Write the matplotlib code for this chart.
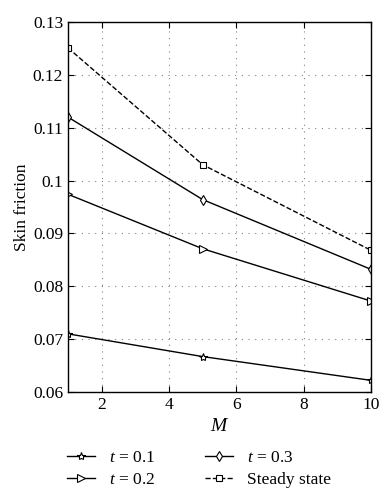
import matplotlib.pyplot as plt

M = [1, 5, 10]
t01 = [0.0710, 0.0667, 0.0622]
t02 = [0.0974, 0.0871, 0.0772]
t03 = [0.1120, 0.0964, 0.0832]
steady = [0.1251, 0.1030, 0.0868]

plt.rcParams['font.family'] = ['Liberation Serif', 'DejaVu Serif']
plt.rcParams['mathtext.fontset'] = 'custom'
plt.rcParams['mathtext.it'] = 'Liberation Serif:italic'
plt.rcParams['mathtext.rm'] = 'Liberation Serif'

fig = plt.figure(figsize=(3.91, 5.0), dpi=100)
ax = fig.add_axes([0.174, 0.216, 0.775, 0.740])

ax.plot(M, t01, 'k-', marker='*', ms=6, mfc='white', mew=0.8, lw=1, label='$t$ = 0.1')
ax.plot(M, t02, 'k-', marker='>', ms=5.5, mfc='white', mew=0.8, lw=1, label='$t$ = 0.2')
ax.plot(M, t03, 'k-', marker='d', ms=5, mfc='white', mew=0.8, lw=1, label='$t$ = 0.3')
ax.plot(M, steady, 'k--', marker='s', ms=4.5, mfc='white', mew=0.8, lw=1, label='Steady state')

ax.set_xlim(1, 10)
ax.set_ylim(0.06, 0.13)
ax.set_xticks([2, 4, 6, 8, 10])
ax.set_yticks([0.06, 0.07, 0.08, 0.09, 0.1, 0.11, 0.12, 0.13])
ax.set_yticklabels(['0.06', '0.07', '0.08', '0.09', '0.1', '0.11', '0.12', '0.13'])
ax.grid(True, linestyle=(0, (1, 5)), color='gray', lw=0.8)
ax.tick_params(direction='in', top=True, right=True, labelsize=12.5, length=4)
for s in ax.spines.values():
    s.set_linewidth(1)

ax.set_xlabel('$M$', fontsize=14)
ax.set_ylabel('Skin friction', fontsize=12.5, labelpad=2)

ax.legend(loc='upper left', bbox_to_anchor=(-0.055, -0.115), ncol=2, frameon=False,
          fontsize=12.5, handlelength=1.6, columnspacing=2.9, labelspacing=0.3,
          handletextpad=0.8)

fig.savefig('out.png', dpi=100)
